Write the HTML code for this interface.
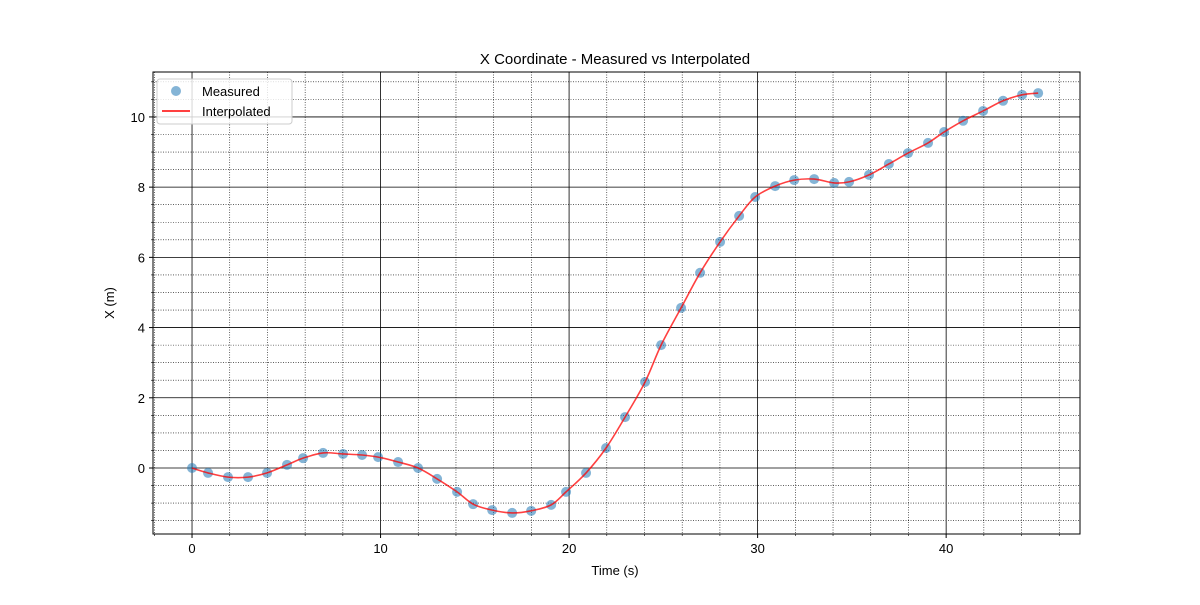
<!DOCTYPE html>
<html><head><meta charset="utf-8"><style>
body{margin:0;background:#fff;}
svg text{font-family:"Liberation Sans","DejaVu Sans",sans-serif;}
</style></head><body>
<svg id="chart" width="1200" height="600" xmlns="http://www.w3.org/2000/svg">
<rect width="1200" height="600" fill="#fff"/>
<g id="grid"></g><g id="ticks"></g><g id="series"></g>
<rect x="153" y="72" width="927" height="462" fill="none" stroke="#000" stroke-width="1"/>
<text x="615" y="64" font-size="15" text-anchor="middle">X Coordinate - Measured vs Interpolated</text>
<text x="615" y="575" font-size="13" text-anchor="middle">Time (s)</text>
<text x="114" y="303" font-size="13" text-anchor="middle" transform="rotate(-90 114 303)">X (m)</text>
<g>
<rect x="157" y="79" width="135" height="45" rx="3" fill="#fff" fill-opacity="0.8" stroke="#ccc"/>
<circle cx="176" cy="91" r="5" fill="#1f77b4" fill-opacity="0.55"/>
<text x="202" y="96" font-size="13">Measured</text>
<line x1="162" y1="111" x2="190" y2="111" stroke="#f00" stroke-opacity="0.75" stroke-width="2"/>
<text x="202" y="116" font-size="13">Interpolated</text>
</g>
</svg>
<script>
const times=[0,0.85,1.91,2.97,3.98,5.04,5.89,6.95,8.01,9.02,9.87,10.93,11.99,13.0,14.06,14.91,15.92,16.98,17.99,19.05,19.84,20.9,21.96,22.97,24.03,24.88,25.94,26.95,28.01,29.02,29.87,30.93,31.94,33.0,34.06,34.85,35.91,36.96,37.98,39.04,39.89,40.9,41.96,43.02,44.03,44.88];
const xMeasured=[0,-0.14,-0.26,-0.26,-0.14,0.09,0.28,0.43,0.40,0.37,0.31,0.17,0,-0.31,-0.68,-1.03,-1.2,-1.28,-1.22,-1.05,-0.68,-0.14,0.57,1.45,2.45,3.5,4.56,5.56,6.44,7.18,7.72,8.03,8.2,8.23,8.12,8.15,8.35,8.66,8.97,9.26,9.57,9.89,10.17,10.46,10.63,10.68];
const xTicks=[0,10,20,30,40];
const yTicks=[0,2,4,6,8,10];
const NS="http://www.w3.org/2000/svg";
const L=153,R=1080,T=72,B=534;
const xMin=-2.07,xMax=47.1,yMin=-1.88,yMax=11.28;
const sx=v=>L+(v-xMin)/(xMax-xMin)*(R-L);
const sy=v=>B-(v-yMin)/(yMax-yMin)*(B-T);
function mk(tag,a,parent){const e=document.createElementNS(NS,tag);for(const k in a)e.setAttribute(k,a[k]);parent.appendChild(e);return e;}
const grid=document.getElementById('grid'),ticks=document.getElementById('ticks'),series=document.getElementById('series');
for(let v=-2;v<=47;v+=2){if(v%10===0)continue;const x=sx(v);
 const g=mk('line',{x1:x,x2:x,y1:T,y2:B,stroke:'#000','stroke-width':0.6,'stroke-dasharray':'1,1.5'},grid);
 
 mk('line',{x1:x,x2:x,y1:B,y2:B+2,stroke:'#000','stroke-width':0.6},ticks);}
for(let v=-1.5;v<=11.25;v+=0.5){if(v%2===0)continue;const y=sy(v);
 const g=mk('line',{x1:L,x2:R,y1:y,y2:y,stroke:'#000','stroke-width':0.6,'stroke-dasharray':'1,1.5'},grid);
 
 mk('line',{x1:L-2,x2:L,y1:y,y2:y,stroke:'#000','stroke-width':0.6},ticks);}
xTicks.forEach(v=>{const x=sx(v);
 const g=mk('line',{x1:x,x2:x,y1:T,y2:B,stroke:'#000','stroke-width':0.8},grid);
 
 mk('line',{x1:x,x2:x,y1:B,y2:B+4,stroke:'#000'},ticks);
 const t=mk('text',{x:x,y:B+19,'font-size':13,'text-anchor':'middle'},ticks);t.textContent=v;
 });
yTicks.forEach(v=>{const y=sy(v);
 const g=mk('line',{x1:L,x2:R,y1:y,y2:y,stroke:'#000','stroke-width':0.8},grid);
 
 mk('line',{x1:L-4,x2:L,y1:y,y2:y,stroke:'#000'},ticks);
 const t=mk('text',{x:L-8,y:y+5,'font-size':13,'text-anchor':'end'},ticks);t.textContent=v;
 });
times.forEach((t,i)=>{const c=mk('circle',{cx:sx(t),cy:sy(xMeasured[i]),r:5,fill:'#1f77b4','fill-opacity':0.55},series);
 });
const P=times.map((t,i)=>[sx(t),sy(xMeasured[i])]);
let d='M'+P[0][0]+','+P[0][1];
for(let i=0;i<P.length-1;i++){const p0=P[Math.max(0,i-1)],p1=P[i],p2=P[i+1],p3=P[Math.min(P.length-1,i+2)];
 d+=' C'+(p1[0]+(p2[0]-p0[0])/6)+','+(p1[1]+(p2[1]-p0[1])/6)+' '+(p2[0]-(p3[0]-p1[0])/6)+','+(p2[1]-(p3[1]-p1[1])/6)+' '+p2[0]+','+p2[1];}
const pl=mk('path',{d:d,fill:'none',stroke:'#f00','stroke-opacity':0.75,'stroke-width':1.6},series);

</script>
</body></html>
